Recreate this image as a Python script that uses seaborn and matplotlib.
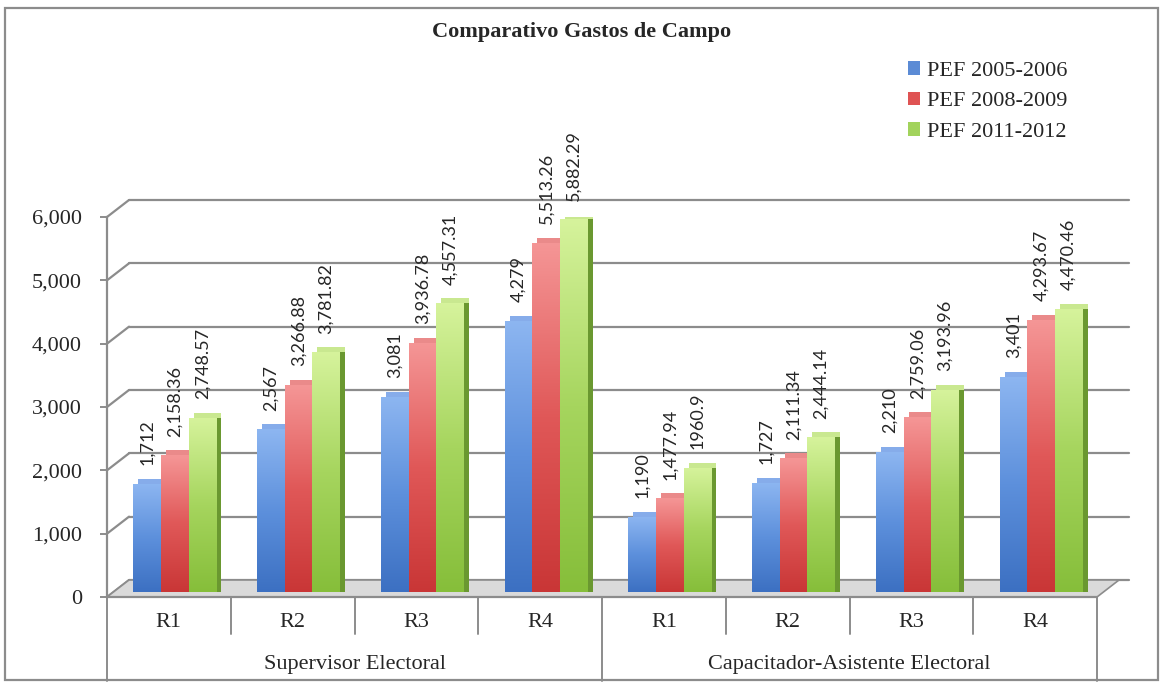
import matplotlib
matplotlib.use("Agg")
import matplotlib.pyplot as plt
import matplotlib.transforms as mtransforms
from matplotlib.colors import LinearSegmentedColormap
from matplotlib.patches import Rectangle, Polygon
import seaborn as sns
import pandas as pd
import numpy as np

# datos
grupos = ["Supervisor Electoral", "Capacitador-Asistente Electoral"]
regiones = ["R1", "R2", "R3", "R4"]
series = ["PEF 2005-2006", "PEF 2008-2009", "PEF 2011-2012"]

pef_2005 = [1712, 2567, 3081, 4279, 1190, 1727, 2210, 3401]
pef_2008 = [2158.36, 3266.88, 3936.78, 5513.26, 1477.94, 2111.34, 2759.06, 4293.67]
pef_2011 = [2748.57, 3781.82, 4557.31, 5882.29, 1960.9, 2444.14, 3193.96, 4470.46]

etiquetas_2005 = ["1,712", "2,567", "3,081", "4,279", "1,190", "1,727", "2,210", "3,401"]
etiquetas_2008 = ["2,158.36", "3,266.88", "3,936.78", "5,513.26", "1,477.94", "2,111.34", "2,759.06", "4,293.67"]
etiquetas_2011 = ["2,748.57", "3,781.82", "4,557.31", "5,882.29", "1960.9", "2,444.14", "3,193.96", "4,470.46"]

y_ticks = [0, 1000, 2000, 3000, 4000, 5000, 6000]

# colores: medio (leyenda), degradado abajo/centro/arriba, lado, tapa
colores = ["#5b8bd5", "#df5353", "#a2d35c"]
col_abajo = ["#3c70c2", "#c93636", "#86be3a"]
col_centro = ["#5d90dc", "#e05858", "#a6d55e"]
col_arriba = ["#8db6f1", "#f59696", "#d6f39c"]
col_lado = ["#2f5a9c", "#a02c2c", "#6a9830"]
col_tapa = ["#86acea", "#ea8a8a", "#c9e890"]

# tabla larga para seaborn
categorias = [g + " " + r for g in grupos for r in regiones]
filas = []
for nombre, valores in zip(series, [pef_2005, pef_2008, pef_2011]):
    for cat, v in zip(categorias, valores):
        filas.append({"categoria": cat, "serie": nombre, "valor": v})
df = pd.DataFrame(filas)

sns.set_style("white")
plt.rcParams["font.family"] = ["Liberation Serif", "DejaVu Serif"]

fig = plt.figure(figsize=(11.63, 6.84), dpi=100)
ax_w, ax_h = 990, 380
ax = fig.add_axes([107 / 1163, 87 / 684, ax_w / 1163, ax_h / 684])
n = len(categorias)
ax.set_ylim(0, 6000)
ax.set_xlim(-0.5, n - 0.5)

gris = "#8c8c8c"
px = 1 / 100  # un pixel en pulgadas

# cuadricula con efecto de pared trasera
dx, dy = 22, 17
desplazado = ax.get_yaxis_transform() + mtransforms.ScaledTranslation(dx * px, dy * px, fig.dpi_scale_trans)
for t in y_ticks:
    ax.plot([0, 1.01], [t, t], transform=desplazado, color=gris, lw=1.6, clip_on=False, zorder=0)
    ax.annotate("", xy=(0, t), xycoords=ax.get_yaxis_transform(),
                xytext=(dx, dy), textcoords="offset pixels",
                arrowprops=dict(arrowstyle="-", color=gris, lw=1.6, shrinkA=0, shrinkB=0), zorder=0)

# piso en perspectiva (u en datos, t de 0 a 1 hacia el fondo)
kx = dx * n / ax_w
ky = dy * 6000 / ax_h
piso_tr = mtransforms.Affine2D().from_values(1, 0, kx, ky, 0, 0) + ax.transData
ax.add_patch(Polygon([(-0.5, 0), (n - 0.5, 0), (n - 0.5, 1), (-0.5, 1)], closed=True,
                     facecolor="#dadada", edgecolor=gris, lw=1.2, transform=piso_tr,
                     clip_on=False, zorder=0.5))

sns.barplot(data=df, x="categoria", y="valor", hue="serie", order=categorias,
            hue_order=series, palette=colores, width=0.67, saturation=1,
            edgecolor="none", ax=ax, zorder=3)

# barras en el plano medio, con cara lateral, tapa y degradado
medio = mtransforms.ScaledTranslation(6 * px, 5 * px, fig.dpi_scale_trans)
prof = 5
grad = np.linspace(0, 1, 256).reshape(-1, 1)
for k, cont in enumerate(ax.containers):
    cmap = LinearSegmentedColormap.from_list("g%d" % k, [col_abajo[k], col_centro[k], col_arriba[k]])
    for p in cont.patches:
        x0, w, h = p.get_x(), p.get_width(), p.get_height()
        p.set_transform(ax.transData + medio)
        tapa = Rectangle((x0, 0), w, h, facecolor=col_tapa[k], edgecolor="none", zorder=2.5,
                         transform=ax.transData + medio
                         + mtransforms.ScaledTranslation(prof * px, prof * px, fig.dpi_scale_trans))
        lado = Rectangle((x0, 0), w, h, facecolor=col_lado[k], edgecolor="none", zorder=2.6,
                         transform=ax.transData + medio
                         + mtransforms.ScaledTranslation(prof * px, 0, fig.dpi_scale_trans))
        ax.add_patch(tapa)
        ax.add_patch(lado)
        im = ax.imshow(grad, extent=[x0, x0 + w, 0, h], origin="lower", cmap=cmap,
                       aspect="auto", zorder=3.1, interpolation="bilinear")
        im.set_transform(ax.transData + medio)
        im.set_clip_path(p)

for cont, etiquetas in zip(ax.containers, [etiquetas_2005, etiquetas_2008, etiquetas_2011]):
    textos = ax.bar_label(cont, labels=etiquetas, rotation=90, padding=17,
                          fontsize=13, family=["Lato", "DejaVu Sans"])
    for tx in textos:
        tx.xyann = (6 * 0.72, 17)

ax.set_ylim(0, 6000)
ax.set_xlim(-0.5, n - 0.5)
ax.set_yticks(y_ticks)
ax.set_yticklabels([f"{t:,}" for t in y_ticks], fontsize=16)
ax.set_xticks([])
ax.set_xlabel("")
ax.set_ylabel("")
for lado_eje in ["top", "right", "bottom"]:
    ax.spines[lado_eje].set_visible(False)
ax.spines["left"].set_color(gris)
ax.spines["left"].set_linewidth(1.6)
ax.tick_params(axis="y", left=True, length=5, width=1.4, color=gris, pad=13)

# eje de categorias en dos niveles
base = ax.get_xaxis_transform()
ax.plot([-0.5, n - 0.5], [0, 0], transform=base, color=gris, lw=1.6, clip_on=False, zorder=4)
for i, cat in enumerate(categorias):
    ax.text(i, -0.066, regiones[i % 4], transform=base, ha="center", va="center", fontsize=16)
for i in range(n + 1):
    grande = i % 4 == 0
    ax.plot([i - 0.5, i - 0.5], [0, -0.22 if grande else -0.098], transform=base,
            color=gris, lw=1.4, clip_on=False)
for j, g in enumerate(grupos):
    ax.text(j * 4 + 1.5, -0.178, g, transform=base, ha="center", va="center", fontsize=16)

fig.text(0.5, 0.953, "Comparativo Gastos de Campo", ha="center", va="center",
         fontsize=16, fontweight="bold")

ax.legend(loc="upper left", bbox_to_anchor=(897 / 1163, 1 - 50 / 684), bbox_transform=fig.transFigure,
          frameon=False, fontsize=16, handlelength=0.55, handleheight=0.55, handletextpad=0.3,
          labelspacing=0.5, borderpad=0, title=None)

# marco del grafico
fig.patches.append(plt.Rectangle((5 / 1163, 4 / 684), 1153 / 1163, 672 / 684, transform=fig.transFigure,
                                 fill=False, edgecolor=gris, lw=1.6))

fig.savefig("out.png", dpi=100)
